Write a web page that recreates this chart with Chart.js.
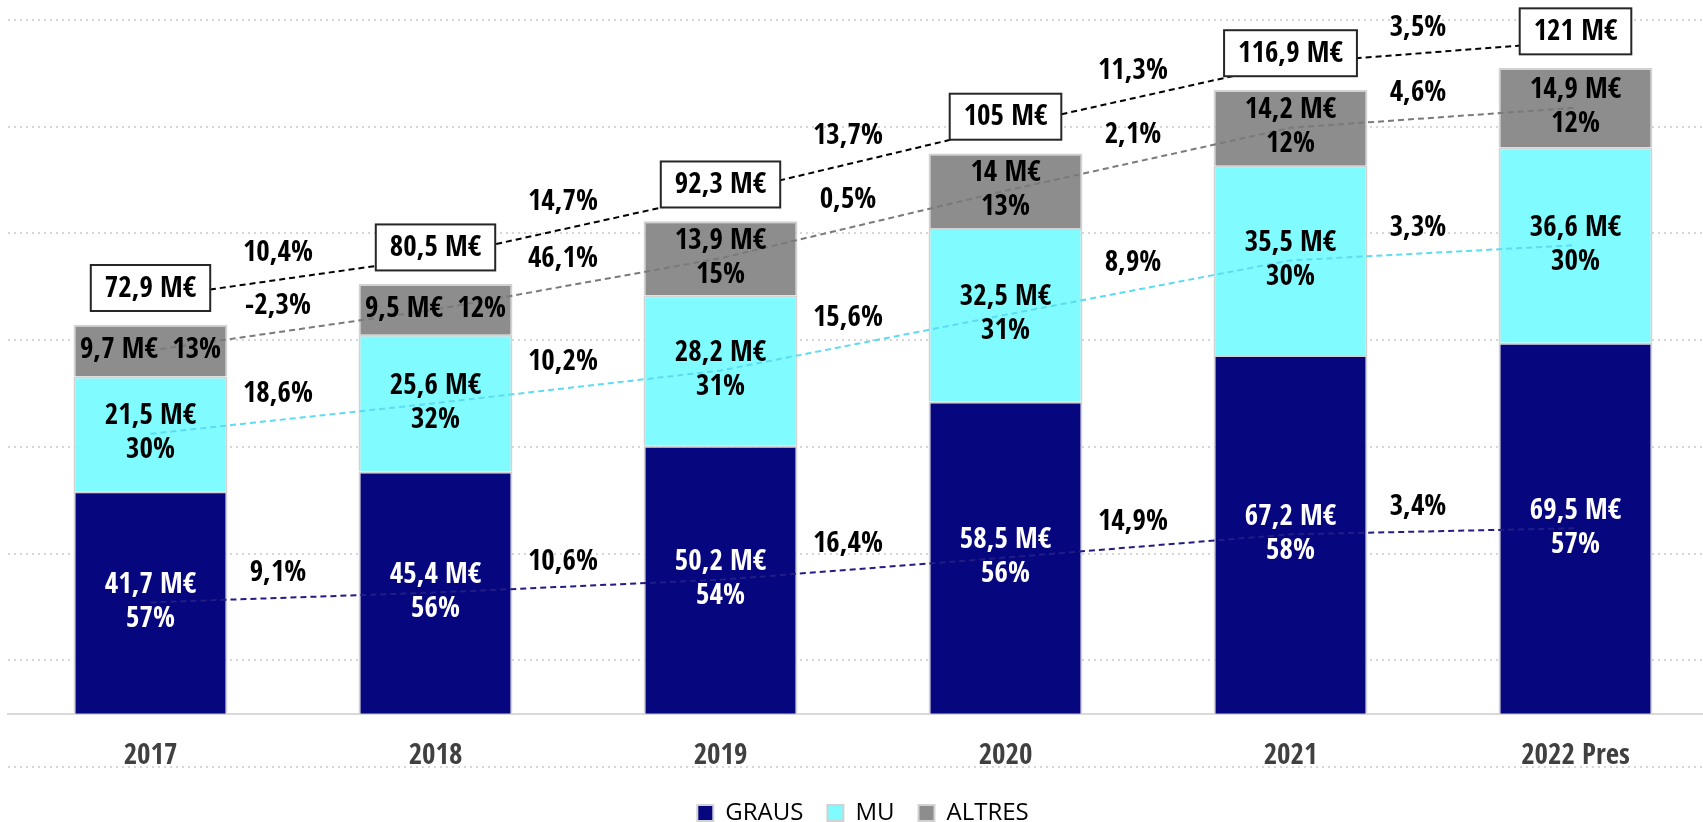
<!DOCTYPE html>
<html>
<head>
<meta charset="utf-8">
<script src="https://cdn.jsdelivr.net/npm/chart.js@4.4.1/dist/chart.umd.min.js"></script>
<style>
  html, body { margin: 0; padding: 0; background: #fff; overflow: hidden; }
</style>
</head>
<body>
<canvas id="chart" width="1718" height="835"></canvas>
<script>
// Data (M€)
const years = ['2017', '2018', '2019', '2020', '2021', '2022 Pres'];
const graus = [41.7, 45.4, 50.2, 58.5, 67.2, 69.5];
const mu = [21.5, 25.6, 28.2, 32.5, 35.5, 36.6];
const altres = [9.7, 9.5, 13.9, 14, 14.2, 14.9];
const totals = [72.9, 80.5, 92.3, 105, 116.9, 121];

// shares of each year's total (%)
const shareGraus = [57, 56, 54, 56, 58, 57];
const shareMu = [30, 32, 31, 31, 30, 30];
const shareAltres = [13, 12, 15, 13, 12, 12];

// year on year growth (%)
const growthTotal = [10.4, 14.7, 13.7, 11.3, 3.5];
const growthAltres = [-2.3, 46.1, 0.5, 2.1, 4.6];
const growthMu = [18.6, 10.2, 15.6, 8.9, 3.3];
const growthGraus = [9.1, 10.6, 16.4, 14.9, 3.4];

const FONT = "'Open Sans Condensed', 'DejaVu Sans Condensed', sans-serif";

// trend lines run through the middle of each segment
const midGraus = graus.map(v => v / 2);
const midMu = graus.map((v, i) => v + mu[i] / 2);
const midAltres = graus.map((v, i) => v + mu[i] + altres[i] / 2);

const fmt = v => String(v).replace('.', ',');

const labelPlugin = {
    id: 'valueLabels',
    afterDatasetsDraw(chart) {
        const ctx = chart.ctx;
        ctx.save();
        ctx.textAlign = 'center';
        ctx.textBaseline = 'middle';
        ctx.font = 'bold 29px ' + FONT;

        // segment labels
        chart.data.datasets.forEach((ds, d) => {
            if (ds.type !== 'bar') return;
            const meta = chart.getDatasetMeta(d);
            meta.data.forEach((bar, i) => {
                const h = bar.base - bar.y;
                const cy = (bar.y + bar.base) / 2;
                const v = fmt(ds.data[i]) + ' M€';
                const s = ds.shares[i] + '%';
                ctx.fillStyle = ds.textColor;
                if (h < 60) {
                    ctx.fillText(v + '  ' + s, bar.x, cy);
                } else {
                    ctx.fillText(v, bar.x, cy - 17);
                    ctx.fillText(s, bar.x, cy + 17);
                }
            });
        });

        // growth labels between years
        chart.data.datasets.forEach((ds, d) => {
            if (ds.type !== 'line') return;
            const pts = chart.getDatasetMeta(d).data;
            ctx.fillStyle = '#000';
            ds.growth.forEach((g, i) => {
                const x = (pts[i].x + pts[i + 1].x) / 2 - 15;
                const y = (pts[i].y + pts[i + 1].y) / 2 - 24;
                ctx.fillText(fmt(g) + '%', x, y);
            });
        });

        // total boxes
        const tIdx = chart.data.datasets.findIndex(ds => ds.isTotal);
        chart.getDatasetMeta(tIdx).data.forEach((p, i) => {
            const txt = fmt(totals[i]) + ' M€';
            const w = ctx.measureText(txt).width + 28;
            const h = 46;
            const cy = p.y - 10;
            ctx.fillStyle = '#fff';
            ctx.fillRect(p.x - w / 2, cy - h / 2, w, h);
            ctx.lineWidth = 2;
            ctx.strokeStyle = '#262626';
            ctx.strokeRect(p.x - w / 2, cy - h / 2, w, h);
            ctx.fillStyle = '#000';
            ctx.fillText(txt, p.x, cy + 1);
        });
        ctx.restore();
    }
};

new Chart(document.getElementById('chart'), {
    data: {
        labels: years,
        datasets: [
            {
                type: 'bar', label: 'GRAUS', data: graus, shares: shareGraus, textColor: '#fff',
                backgroundColor: '#06067e', borderColor: '#d2d2d2', borderWidth: 2, order: 2
            },
            {
                type: 'bar', label: 'MU', data: mu, shares: shareMu, textColor: '#000',
                backgroundColor: '#80fbff', borderColor: '#d2d2d2', borderWidth: 2, order: 2
            },
            {
                type: 'bar', label: 'ALTRES', data: altres, shares: shareAltres, textColor: '#000',
                backgroundColor: '#8d8d8d', borderColor: '#d2d2d2', borderWidth: 2, order: 2
            },
            {
                type: 'line', label: 'graus trend', data: midGraus, growth: growthGraus, stack: 'l1',
                borderColor: '#221c84', borderWidth: 2, borderDash: [6, 4], pointRadius: 0, fill: false, order: 1
            },
            {
                type: 'line', label: 'mu trend', data: midMu, growth: growthMu, stack: 'l2',
                borderColor: '#5cdcf2', borderWidth: 2, borderDash: [6, 4], pointRadius: 0, fill: false, order: 1
            },
            {
                type: 'line', label: 'altres trend', data: midAltres, growth: growthAltres, stack: 'l3',
                borderColor: '#7a7a7a', borderWidth: 2, borderDash: [6, 4], pointRadius: 0, fill: false, order: 1
            },
            {
                type: 'line', label: 'total', data: totals, growth: growthTotal, isTotal: true, stack: 'l4',
                yAxisID: 'yt',
                borderColor: '#000', borderWidth: 2, borderDash: [6, 4], pointRadius: 0, fill: false, order: 1
            }
        ]
    },
    options: {
        responsive: false,
        animation: false,
        layout: { padding: { left: 8, top: 20, right: 0, bottom: 0 } },
        datasets: { bar: { barPercentage: 0.54, categoryPercentage: 1 } },
        scales: {
            x: {
                stacked: true,
                position: { y: 0 },
                grid: { display: false },
                border: { display: true, color: '#d9d9d9', width: 2 },
                ticks: { padding: 17, color: '#404040', font: { family: FONT, size: 29, weight: 'bold' } }
            },
            y: {
                stacked: true,
                min: -10,
                max: 130,
                ticks: { stepSize: 20, display: false },
                grid: { color: '#d6d6d6', lineWidth: 2, drawTicks: false, tickLength: 0 },
                border: { display: false, dash: [2, 4] }
            },
            yt: { display: false, min: -15, max: 125 }
        },
        plugins: {
            legend: {
                position: 'bottom',
                title: { display: true, text: ' ', font: { size: 10, lineHeight: 1 }, padding: 0 },
                labels: {
                    filter: item => item.datasetIndex < 3,
                    boxWidth: 16, boxHeight: 16, padding: 24, color: '#000',
                    font: { family: "'Open Sans', sans-serif", size: 24 }
                }
            },
            tooltip: { enabled: false }
        }
    },
    plugins: [labelPlugin]
});
</script>
</body>
</html>
